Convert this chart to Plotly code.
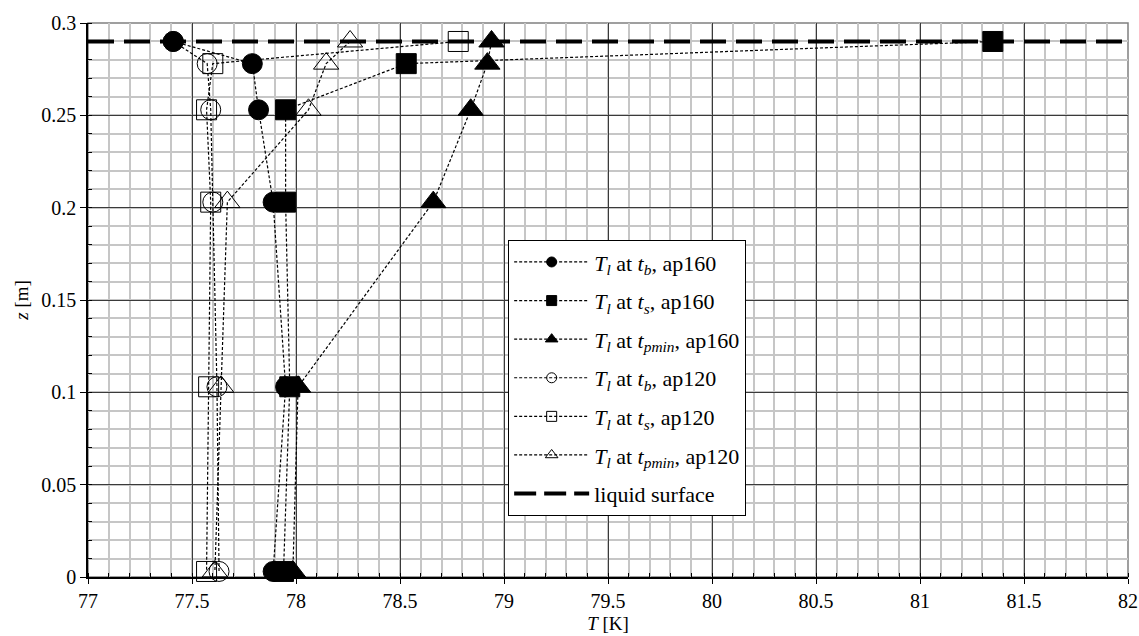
import plotly.graph_objects as go

# Heights of the measurement stations [m]
z_levels = [0.29, 0.278, 0.253, 0.203, 0.103, 0.003]

# Liquid temperature profiles [K], top to bottom
T_tb_ap160 = [77.41, 77.79, 77.82, 77.89, 77.95, 77.89]
T_ts_ap160 = [81.35, 78.53, 77.95, 77.95, 77.97, 77.94]
T_tpmin_ap160 = [78.94, 78.92, 78.84, 78.66, 78.01, 77.985]
T_tb_ap120 = [77.41, 77.573, 77.59, 77.60, 77.62, 77.63]
T_ts_ap120 = [78.78, 77.60, 77.57, 77.59, 77.58, 77.57]
T_tpmin_ap120 = [78.26, 78.145, 78.06, 77.67, 77.64, 77.61]

# Liquid surface level
surface_T = [77, 82]
surface_z = [0.29, 0.29]

series = [
    (T_tb_ap160, "<i>T</i><sub><i>l</i></sub> at <i>t</i><sub><i>b</i></sub>, ap160", "circle", 20),
    (T_ts_ap160, "<i>T</i><sub><i>l</i></sub> at <i>t</i><sub><i>s</i></sub>, ap160", "square", 20),
    (T_tpmin_ap160, "<i>T</i><sub><i>l</i></sub> at <i>t</i><sub><i>pmin</i></sub>, ap160", "triangle-up", 22),
    (T_tb_ap120, "<i>T</i><sub><i>l</i></sub> at <i>t</i><sub><i>b</i></sub>, ap120", "circle-open", 20),
    (T_ts_ap120, "<i>T</i><sub><i>l</i></sub> at <i>t</i><sub><i>s</i></sub>, ap120", "square-open", 20),
    (T_tpmin_ap120, "<i>T</i><sub><i>l</i></sub> at <i>t</i><sub><i>pmin</i></sub>, ap120", "triangle-up-open", 22),
]

FONT = "Liberation Serif, Times New Roman, serif"
SERIES_LINE = dict(color="black", width=1.2, dash="3px,2px")

fig = go.Figure()

# surface line first so the markers sit on top of it
fig.add_trace(go.Scatter(
    x=surface_T, y=surface_z, mode="lines",
    line=dict(color="black", width=4, dash="26px,10px"),
    showlegend=False, cliponaxis=False, hoverinfo="skip",
))

for temps, label, symbol, size in series:
    fig.add_trace(go.Scatter(
        x=temps, y=z_levels, mode="lines+markers", name=label,
        line=SERIES_LINE,
        marker=dict(symbol=symbol, size=size, color="black",
                    line=dict(color="black", width=1)),
        showlegend=False, cliponaxis=False,
    ))

# legend entries with small symbols
for i, (temps, label, symbol, size) in enumerate(series):
    fig.add_trace(go.Scatter(
        x=[None], y=[None], mode="lines+markers", name=label,
        line=SERIES_LINE,
        marker=dict(symbol=symbol, size=10 if "triangle" not in symbol else 11,
                    color="black", line=dict(color="black", width=1)),
        legendgroup=f"g{i}", legendrank=i + 1,
    ))
fig.add_trace(go.Scatter(
    x=[None], y=[None], mode="lines", name="liquid surface",
    line=dict(color="black", width=4, dash="22px,8px"),
    legendgroup="surf", legendrank=100,
))

fig.update_layout(
    width=1139, height=636,
    margin=dict(l=88, r=11, t=23, b=59, autoexpand=False),
    paper_bgcolor="white", plot_bgcolor="white",
    font=dict(family=FONT, color="black", size=20),
    showlegend=True,
    legend=dict(
        x=0.404, y=0.608, xanchor="left", yanchor="top",
        bgcolor="white", bordercolor="black", borderwidth=1,
        font=dict(family=FONT, size=22, color="black"),
        itemsizing="trace", itemwidth=75,
        tracegroupgap=7,
        traceorder="grouped",
    ),
)

fig.update_xaxes(
    range=[77, 82], dtick=0.5, tick0=77, automargin=False,
    showgrid=True, gridcolor="#3a3a3a", gridwidth=1,
    ticks="outside", ticklen=5, tickcolor="black",
    showline=True, linecolor="black", linewidth=1.5, mirror=False,
    zeroline=False,
    tickfont=dict(family=FONT, size=20),
    title=dict(text="<i>T</i> [K]", font=dict(family=FONT, size=19), standoff=6),
    minor=dict(dtick=0.1, showgrid=True, gridcolor="#c6c6c6", gridwidth=1.5,
               ticks="inside", ticklen=4, tickcolor="black"),
)
fig.update_yaxes(
    range=[0, 0.3], dtick=0.05, tick0=0, automargin=False,
    showgrid=True, gridcolor="#3a3a3a", gridwidth=1,
    ticks="outside", ticklen=6, tickcolor="black",
    showline=True, linecolor="black", linewidth=1.5, mirror=False,
    zeroline=False,
    tickfont=dict(family=FONT, size=20),
    title=dict(text="<i>z</i> [m]", font=dict(family=FONT, size=19), standoff=8),
    minor=dict(dtick=0.01, showgrid=True, gridcolor="#c6c6c6", gridwidth=1.5,
               ticks="inside", ticklen=4, tickcolor="black"),
)

# frame along the top and right edges of the plotting area
fig.add_shape(type="rect", xref="paper", yref="paper", x0=0, y0=0, x1=1, y1=1,
              line=dict(color="#808080", width=1.5), layer="below")

fig.write_html("out.html")
